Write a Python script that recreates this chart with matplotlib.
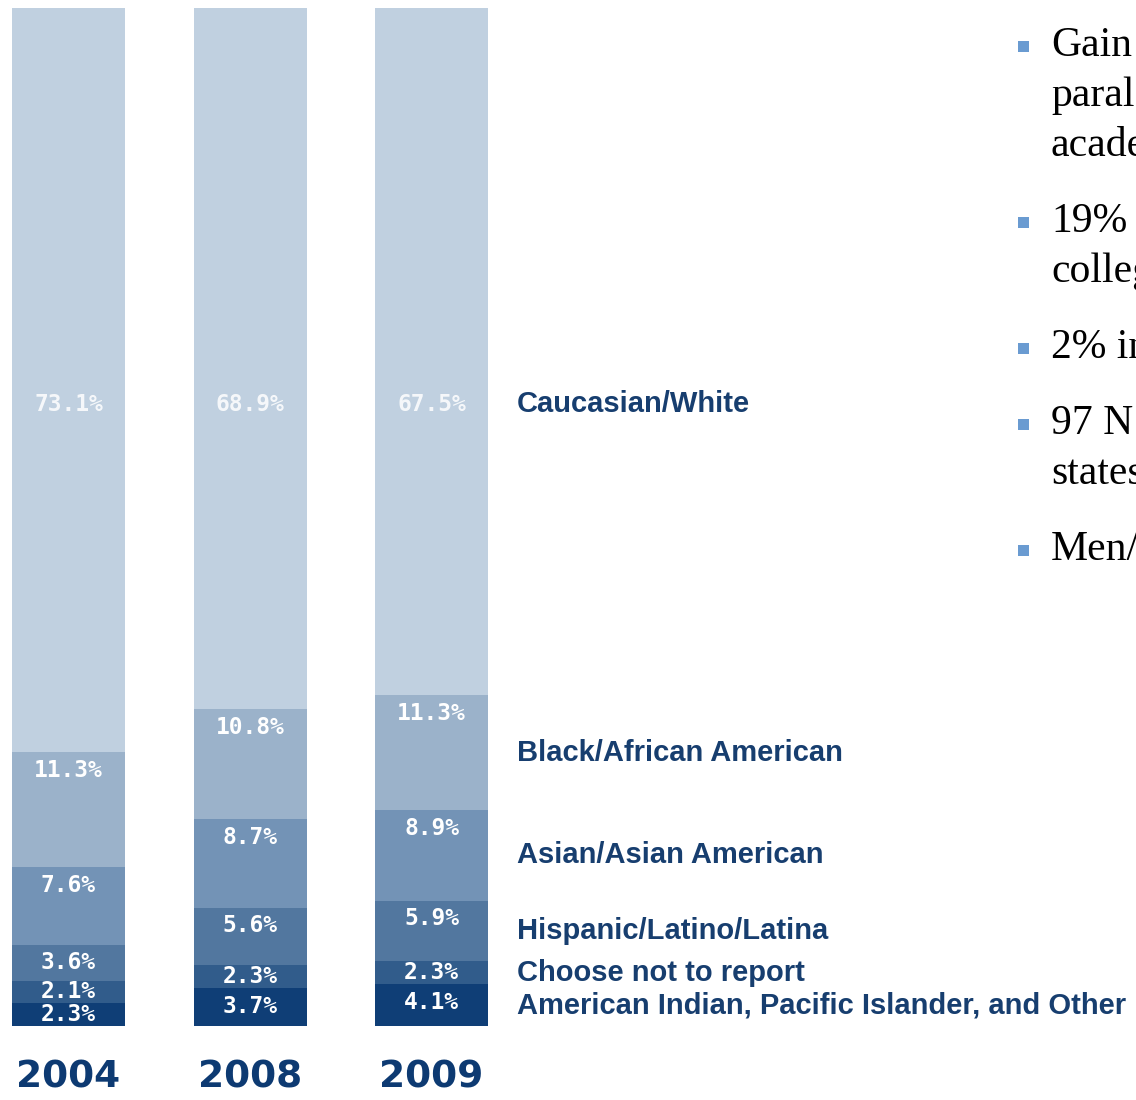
import matplotlib.pyplot as plt
from matplotlib.patches import Rectangle

# stacked shares per year, bottom segment first
years = ["2004", "2008", "2009"]
groups = ["American Indian, Pacific Islander, and Other",
          "Choose not to report",
          "Hispanic/Latino/Latina",
          "Asian/Asian American",
          "Black/African American",
          "Caucasian/White"]
am_indian = [2.3, 3.7, 4.1]
not_report = [2.1, 2.3, 2.3]
hispanic = [3.6, 5.6, 5.9]
asian = [7.6, 8.7, 8.9]
black = [11.3, 10.8, 11.3]
white = [73.1, 68.9, 67.5]
series = [am_indian, not_report, hispanic, asian, black, white]

# right-hand bullet list (cut off by the slide edge)
bullets = [["Gain", "paral", "acade"],
           ["19%", "colleg"],
           ["2% in"],
           ["97 N", "states"],
           ["Men/"]]

colors = ["#0f3e76", "#315c8b", "#52779f", "#7393b6", "#9bb2ca", "#c0d0e0"]
navy = "#173e6f"

W, H = 1136, 1100
fig = plt.figure(figsize=(W / 100, H / 100), dpi=100)
# axes: bar top at px 8, bottom at px 1026; bar 0 centre at px 68.5, step 181.5 px
step = 181.5
ax = fig.add_axes([0, (H - 1026) / H, 1, (1026 - 8) / H])
ax.set_ylim(0, 100)
ax.set_xlim(-68.5 / step, (W - 68.5) / step)
ax.axis("off")

x = list(range(len(years)))
bw = 113 / step
off = 18 / 10.18  # label offset below segment top, in data units
bottoms = [0.0] * len(years)
for vals, col in zip(series, colors):
    ax.bar(x, vals, bw, bottom=bottoms, color=col, edgecolor="none")
    for i, v in enumerate(vals):
        top = bottoms[i] + v
        if vals is white:
            ly = 61.1
        else:
            ly = max(top - off, bottoms[i] + v / 2)
        ax.text(x[i], ly, "%.1f%%" % v, ha="center", va="center",
                color="white", fontsize=16.5, fontweight="bold",
                family="DejaVu Sans Mono", alpha=0.85 if vals is white else 1)
    bottoms = [b + v for b, v in zip(bottoms, vals)]

# category labels beside the 2009 bar
lab_x = (517 - 68.5) / step
base = 0.0
for g, vals in zip(groups, series):
    v = vals[2]
    ly = 61.1 if vals is white else base + v / 2
    ax.text(lab_x, ly, g, ha="left", va="center", color=navy,
            fontsize=21, fontweight="bold", family="Liberation Sans")
    base += v

# year labels under bars
for i, yr in enumerate(years):
    ax.text(x[i], -5.1, yr, ha="center", va="center", color="#0d3a72",
            fontsize=27, fontweight="heavy", family="DejaVu Sans")

# bullets
y = 46
for para in bullets:
    fig.add_artist(Rectangle((1018 / W, 1 - (y + 6) / H), 11 / W, 11 / H,
                             transform=fig.transFigure, color="#6a9bd1", lw=0))
    for line in para:
        fig.text(1051 / W, 1 - y / H, line, ha="left", va="center",
                 fontsize=30, family="Liberation Serif", color="black")
        y += 50
    y += 26

fig.savefig("out.png", dpi=100)
